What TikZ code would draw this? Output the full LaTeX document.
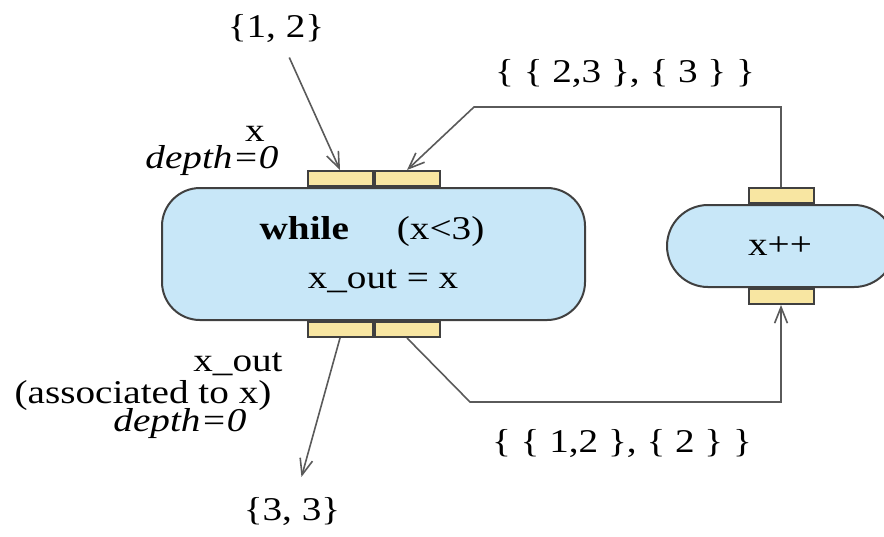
\documentclass[tikz,border=0pt]{standalone}
\usepackage{fontspec}
\setmainfont{Liberation Serif}[FakeStretch=1.18]
\usetikzlibrary{arrows.meta, positioning}
\definecolor{opblue}{HTML}{C8E7F8}
\definecolor{portyellow}{HTML}{F8E6A2}
\definecolor{edgegray}{HTML}{5A5A5A}

\begin{document}
\begin{tikzpicture}[
        x=0.25pt, y=-0.25pt,
        font=\fontsize{8.3}{10}\selectfont,
        op/.style={draw=black!75, line width=0.5pt, fill=opblue,
                   inner sep=0pt, align=center},
        port/.style={draw=black!75, line width=0.5pt, fill=portyellow,
                     minimum width=16.25pt, minimum height=3.75pt, inner sep=0pt},
        lbl/.style={anchor=base, inner sep=0pt},
        arr/.style={-{Straight Barb[length=4pt, width=3.2pt]}, edgegray, line width=0.4pt}
      ]
        \useasboundingbox (0,0) rectangle (884,536);
        \node[op, minimum width=105.75pt, minimum height=33pt, rounded corners=9.5pt] (whl) at (373.5,254) {};
        \node[op, minimum width=57pt, minimum height=20.5pt, rounded corners=10.25pt] (inc) at (781,246) {};
        \node[lbl] (cnd) at (372,239) {\textbf{while}\hspace{12pt}(x<3)};
        \node[lbl] (asg) at (383,288) {x\_out = x};
        \node[lbl] (ipp) at (780,255) {x++};
        \node[port, anchor=south east] (pin1)  at (whl.north) {};
        \node[port, anchor=south west] (pin2)  at (whl.north) {};
        \node[port, anchor=north east] (pout1) at (whl.south) {};
        \node[port, anchor=north west] (pout2) at (whl.south) {};
        \node[port, anchor=south] (incn) at (inc.north) {};
        \node[port, anchor=north] (incs) at (inc.south) {};
        \node[lbl] (in1) at (276,37)  {\{1, 2\}};
        \node[lbl] (xnm) at (255,141) {x};
        \node[lbl] (xdp) at (212,168) {\textit{depth=0}};
        \node[lbl] (fbv) at (625,82)  {\{ \{ 2,3 \}, \{ 3 \} \}};
        \node[lbl] (fwv) at (622,452) {\{ \{ 1,2 \}, \{ 2 \} \}};
        \node[lbl] (res) at (292,520) {\{3, 3\}};
        \node[lbl] (onm) at (238,371) {x\_out};
        \node[lbl] (oas) at (143,403) {(associated to x)};
        \node[lbl] (odp) at (180,431) {\textit{depth=0}};
        \coordinate (fbk) at (474,107);
        \coordinate (fwd) at (470,402);
        \draw[arr, shorten <=4pt] (in1) -- (pin1.north);
        \draw[arr] (incn.north) |- (fbk) -- (pin2.north);
        \draw[arr] (pout2.south) -- (fwd) -| (incs.south);
        \draw[arr, shorten >=5pt] (pout1.south) -- (res);
      \end{tikzpicture}
\end{document}
